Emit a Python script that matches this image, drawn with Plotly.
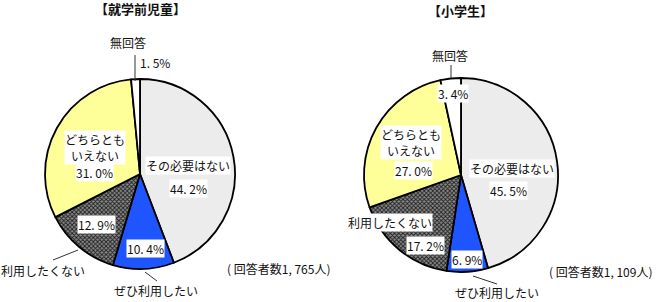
import plotly.graph_objects as go

W, H = 660, 302

categories = ["その必要はない", "ぜひ利用したい", "利用したくない", "どちらともいえない", "無回答"]
preschool_values = [44.2, 10.4, 12.9, 31.0, 1.5]
elementary_values = [45.5, 6.9, 17.2, 27.0, 3.4]
titles = ["【就学前児童】", "【小学生】"]
respondents = ["( 回答者数1, 765人)", "( 回答者数1, 109人)"]

colors = ["#ECECEC", "#1F55FF", "#6E6E6E", "#FFFF99", "#FFFFFF"]
FONT = "Noto Sans CJK JP, Noto Sans, sans-serif"


def px(x, y):
    return x / W, (H - y) / H


def fmt(v):
    return f"{v:.1f}".replace(".", ". ") + "%"


def pie(values, cx, cy, r):
    x0, y0 = px(cx - r, cy + r)
    x1, y1 = px(cx + r, cy - r)
    return go.Pie(
        labels=categories, values=values, sort=False, direction="clockwise",
        rotation=0, textinfo="none", hoverinfo="label+percent",
        domain=dict(x=[x0, x1], y=[y0, y1]),
        marker=dict(colors=colors, line=dict(color="black", width=1.8),
                    pattern=dict(shape=["", "", "x", "", ""], fgcolor="#1e1e1e",
                                 bgcolor="#8c8c8c", size=3, solidity=0.5)),
        showlegend=False,
    )


fig = go.Figure()
fig.add_trace(pie(preschool_values, 140, 174, 95))
fig.add_trace(pie(elementary_values, 461, 175, 97))

annotations = []


def ann(text, x, y, size=12, bg="rgba(0,0,0,0)", xanchor="center", bold=False):
    ax, ay = px(x, y)
    annotations.append(dict(
        text=f"<b>{text}</b>" if bold else text, x=ax, y=ay, xref="paper", yref="paper",
        showarrow=False, xanchor=xanchor, yanchor="middle", bgcolor=bg, borderpad=0,
        font=dict(family=FONT, size=size, color="#111")))


WB = "white"
# left pie
ann(titles[0], 140, 8, size=13, bold=True)
ann(categories[4], 128, 42)
ann(fmt(preschool_values[4]), 155, 62)
ann("どちらとも<br>いえない", 95, 147, bg=WB)
ann(fmt(preschool_values[3]), 94, 173, bg=WB)
ann(categories[0], 188, 165, bg=WB)
ann(fmt(preschool_values[0]), 188, 188, bg=WB)
ann(fmt(preschool_values[2]), 96, 225, bg=WB)
ann(fmt(preschool_values[1]), 145, 248, bg=WB)
ann(categories[2], 43, 270)
ann(categories[1], 156, 290)
ann(respondents[0], 278, 268)

# right pie
ann(titles[1], 460, 11, size=13, bold=True)
ann(categories[4], 450, 55)
ann(fmt(elementary_values[4]), 453, 93, bg=WB)
ann("どちらとも<br>いえない", 380, 142, bg=WB, xanchor="left")
ann(fmt(elementary_values[3]), 413, 170, bg=WB)
ann(categories[0], 512, 168, bg=WB)
ann(fmt(elementary_values[0]), 508, 190, bg=WB)
ann(categories[2], 390, 222, bg=WB)
ann(fmt(elementary_values[2]), 425, 245, bg=WB)
ann(fmt(elementary_values[1]), 467, 259, bg=WB)
ann(categories[1], 497, 292)
ann(respondents[1], 600, 271)

shapes = []


def line(xa, ya, xb, yb):
    (x0, y0), (x1, y1) = px(xa, ya), px(xb, yb)
    shapes.append(dict(type="line", xref="paper", yref="paper", x0=x0, y0=y0, x1=x1, y1=y1,
                       line=dict(color="#333", width=1)))


line(135, 55, 135, 81)
line(53, 260, 78, 250)
line(145, 272, 157, 281)
line(451, 65, 451, 78)
line(473, 276, 497, 284)

fig.update_layout(width=W, height=H, margin=dict(l=0, r=0, t=0, b=0),
                  paper_bgcolor="white", plot_bgcolor="white",
                  annotations=annotations, shapes=shapes)
fig.write_html("out.html")
